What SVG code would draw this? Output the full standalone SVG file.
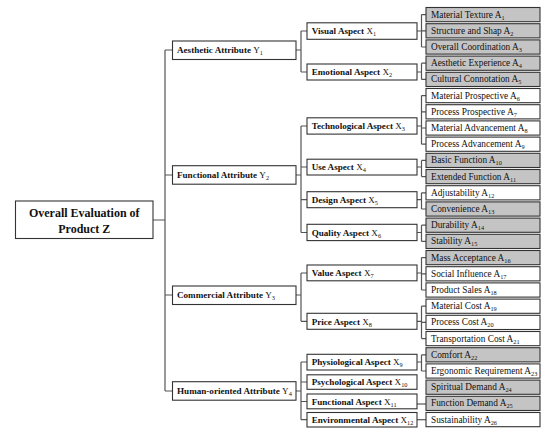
<svg xmlns="http://www.w3.org/2000/svg" width="550" height="436" viewBox="0 0 550 436">
<style>
.bx{fill:#fff;stroke:#333;stroke-width:1.1}
.gr{fill:#c4c4c4}
.ln{stroke:#555;stroke-width:1.2;fill:none}
text{font-family:"Liberation Serif","Times New Roman",serif;fill:#111}
.lf{font-size:9.3px}
.xb{font-size:9.1px;font-weight:bold}
.rt{font-size:12px;font-weight:bold}
.n{font-weight:normal}
.s{font-size:6.3px;font-weight:normal}
</style>
<rect width="550" height="436" fill="#fff"/>
<g id="connectors" class="ln">
<path d="M153,220H165M165,50V391M165,50H172.5M165,175H172.5M165,295H172.5M165,391H172.5"/>
<path d="M296,50H301M301,31V72M301,31H307M301,72H307"/>
<path d="M296,175H301M301,126V232.5M301,126H307M301,167H307M301,199.7H307M301,232.5H307"/>
<path d="M296,295H301M301,273V321.3M301,273H307M301,321.3H307"/>
<path d="M296,391H301M301,362V419.7M301,362H307M301,382H307M301,401.5H307M301,419.7H307"/>
<path d="M417,31H421.5M421.5,14.6V47M421.5,14.6H426M421.5,30.8H426M421.5,47H426"/>
<path d="M417,72H421.5M421.5,63.2V79.4M421.5,63.2H426M421.5,79.4H426"/>
<path d="M417,126H421.5M421.5,95.6V144.2M421.5,95.6H426M421.5,111.8H426M421.5,128H426M421.5,144.2H426"/>
<path d="M417,167H421.5M421.5,160.4V176.6M421.5,160.4H426M421.5,176.6H426"/>
<path d="M417,199.7H421.5M421.5,192.8V209M421.5,192.8H426M421.5,209H426"/>
<path d="M417,232.5H421.5M421.5,225.2V241.4M421.5,225.2H426M421.5,241.4H426"/>
<path d="M417,273H421.5M421.5,257.6V290M421.5,257.6H426M421.5,273.8H426M421.5,290H426"/>
<path d="M417,321.3H421.5M421.5,306.2V338.6M421.5,306.2H426M421.5,322.4H426M421.5,338.6H426"/>
<path d="M417,362H421.5M421.5,354.8V371M421.5,354.8H426M421.5,371H426"/>
<path d="M417,404H426"/>
<path d="M417,419.7H426"/>
</g>
<g id="root"><rect class="bx" x="15.5" y="201" width="137.5" height="37.5"/>
<text class="rt" x="84.3" y="217.3" text-anchor="middle">Overall Evaluation of</text>
<text class="rt" x="84.3" y="232.6" text-anchor="middle">Product Z</text></g>
<g id="Y1"><rect class="bx" x="172.5" y="41" width="123.5" height="18.5"/><text class="xb" x="177" y="53.3">Aesthetic Attribute <tspan class="n">Y</tspan><tspan class="s" dy="2">1</tspan></text></g>
<g id="Y2"><rect class="bx" x="172.5" y="165.7" width="123.5" height="18.5"/><text class="xb" x="177" y="178">Functional Attribute <tspan class="n">Y</tspan><tspan class="s" dy="2">2</tspan></text></g>
<g id="Y3"><rect class="bx" x="172.5" y="286" width="123.5" height="18.5"/><text class="xb" x="177" y="298.3">Commercial Attribute <tspan class="n">Y</tspan><tspan class="s" dy="2">3</tspan></text></g>
<g id="Y4"><rect class="bx" x="172.5" y="381.7" width="123.5" height="18.5"/><text class="xb" x="177" y="394">Human-oriented Attribute <tspan class="n">Y</tspan><tspan class="s" dy="2">4</tspan></text></g>
<g id="X1"><rect class="bx" x="307" y="22.8" width="110" height="16.5"/><text class="xb" x="311.7" y="34.3">Visual Aspect <tspan class="n">X</tspan><tspan class="s" dy="2">1</tspan></text></g>
<g id="X2"><rect class="bx" x="307" y="64" width="110" height="16"/><text class="xb" x="311.7" y="75.2">Emotional Aspect <tspan class="n">X</tspan><tspan class="s" dy="2">2</tspan></text></g>
<g id="X3"><rect class="bx" x="307" y="117.8" width="110" height="16.3"/><text class="xb" x="311.7" y="129.2">Technological Aspect <tspan class="n">X</tspan><tspan class="s" dy="2">3</tspan></text></g>
<g id="X4"><rect class="bx" x="307" y="159.2" width="110" height="15.8"/><text class="xb" x="311.7" y="170.2">Use Aspect <tspan class="n">X</tspan><tspan class="s" dy="2">4</tspan></text></g>
<g id="X5"><rect class="bx" x="307" y="191.7" width="110" height="16"/><text class="xb" x="311.7" y="202.9">Design Aspect <tspan class="n">X</tspan><tspan class="s" dy="2">5</tspan></text></g>
<g id="X6"><rect class="bx" x="307" y="224.3" width="110" height="16.3"/><text class="xb" x="311.7" y="235.7">Quality Aspect <tspan class="n">X</tspan><tspan class="s" dy="2">6</tspan></text></g>
<g id="X7"><rect class="bx" x="307" y="265" width="110" height="15.8"/><text class="xb" x="311.7" y="276.1">Value Aspect <tspan class="n">X</tspan><tspan class="s" dy="2">7</tspan></text></g>
<g id="X8"><rect class="bx" x="307" y="313.3" width="110" height="16"/><text class="xb" x="311.7" y="324.5">Price Aspect <tspan class="n">X</tspan><tspan class="s" dy="2">8</tspan></text></g>
<g id="X9"><rect class="bx" x="307" y="354.3" width="110" height="15.7"/><text class="xb" x="311.7" y="365.3">Physiological Aspect <tspan class="n">X</tspan><tspan class="s" dy="2">9</tspan></text></g>
<g id="X10"><rect class="bx" x="307" y="374.8" width="110" height="14.5"/><text class="xb" x="311.7" y="385.2">Psychological Aspect <tspan class="n">X</tspan><tspan class="s" dy="2">10</tspan></text></g>
<g id="X11"><rect class="bx" x="307" y="394" width="110" height="14.8"/><text class="xb" x="311.7" y="404.5">Functional Aspect <tspan class="n">X</tspan><tspan class="s" dy="2">11</tspan></text></g>
<g id="X12"><rect class="bx" x="307" y="412.5" width="110" height="14.5"/><text class="xb" x="311.7" y="422.9">Environmental Aspect <tspan class="n">X</tspan><tspan class="s" dy="2">12</tspan></text></g>
<g id="A1"><rect class="bx gr" x="426" y="7.5" width="114" height="14.2"/><text class="lf" x="431" y="17.6">Material Texture A<tspan class="s" dy="2">1</tspan></text></g>
<g id="A2"><rect class="bx gr" x="426" y="23.7" width="114" height="14.2"/><text class="lf" x="431" y="33.8">Structure and Shap A<tspan class="s" dy="2">2</tspan></text></g>
<g id="A3"><rect class="bx gr" x="426" y="39.9" width="114" height="14.2"/><text class="lf" x="431" y="50">Overall Coordination A<tspan class="s" dy="2">3</tspan></text></g>
<g id="A4"><rect class="bx gr" x="426" y="56.1" width="114" height="14.2"/><text class="lf" x="431" y="66.2">Aesthetic Experience A<tspan class="s" dy="2">4</tspan></text></g>
<g id="A5"><rect class="bx gr" x="426" y="72.3" width="114" height="14.2"/><text class="lf" x="431" y="82.4">Cultural Connotation A<tspan class="s" dy="2">5</tspan></text></g>
<g id="A6"><rect class="bx" x="426" y="88.5" width="114" height="14.2"/><text class="lf" x="431" y="98.6">Material Prospective A<tspan class="s" dy="2">6</tspan></text></g>
<g id="A7"><rect class="bx" x="426" y="104.7" width="114" height="14.2"/><text class="lf" x="431" y="114.8">Process Prospective A<tspan class="s" dy="2">7</tspan></text></g>
<g id="A8"><rect class="bx" x="426" y="120.9" width="114" height="14.2"/><text class="lf" x="431" y="131">Material Advancement A<tspan class="s" dy="2">8</tspan></text></g>
<g id="A9"><rect class="bx" x="426" y="137.1" width="114" height="14.2"/><text class="lf" x="431" y="147.2">Process Advancement A<tspan class="s" dy="2">9</tspan></text></g>
<g id="A10"><rect class="bx gr" x="426" y="153.3" width="114" height="14.2"/><text class="lf" x="431" y="163.4">Basic Function A<tspan class="s" dy="2">10</tspan></text></g>
<g id="A11"><rect class="bx gr" x="426" y="169.5" width="114" height="14.2"/><text class="lf" x="431" y="179.6">Extended Function A<tspan class="s" dy="2">11</tspan></text></g>
<g id="A12"><rect class="bx" x="426" y="185.7" width="114" height="14.2"/><text class="lf" x="431" y="195.8">Adjustability A<tspan class="s" dy="2">12</tspan></text></g>
<g id="A13"><rect class="bx gr" x="426" y="201.9" width="114" height="14.2"/><text class="lf" x="431" y="212">Convenience A<tspan class="s" dy="2">13</tspan></text></g>
<g id="A14"><rect class="bx gr" x="426" y="218.1" width="114" height="14.2"/><text class="lf" x="431" y="228.2">Durability A<tspan class="s" dy="2">14</tspan></text></g>
<g id="A15"><rect class="bx gr" x="426" y="234.3" width="114" height="14.2"/><text class="lf" x="431" y="244.4">Stability A<tspan class="s" dy="2">15</tspan></text></g>
<g id="A16"><rect class="bx gr" x="426" y="250.5" width="114" height="14.2"/><text class="lf" x="431" y="260.6">Mass Acceptance A<tspan class="s" dy="2">16</tspan></text></g>
<g id="A17"><rect class="bx" x="426" y="266.7" width="114" height="14.2"/><text class="lf" x="431" y="276.8">Social Influence A<tspan class="s" dy="2">17</tspan></text></g>
<g id="A18"><rect class="bx" x="426" y="282.9" width="114" height="14.2"/><text class="lf" x="431" y="293">Product Sales A<tspan class="s" dy="2">18</tspan></text></g>
<g id="A19"><rect class="bx" x="426" y="299.1" width="114" height="14.2"/><text class="lf" x="431" y="309.2">Material Cost A<tspan class="s" dy="2">19</tspan></text></g>
<g id="A20"><rect class="bx" x="426" y="315.3" width="114" height="14.2"/><text class="lf" x="431" y="325.4">Process Cost A<tspan class="s" dy="2">20</tspan></text></g>
<g id="A21"><rect class="bx" x="426" y="331.5" width="114" height="14.2"/><text class="lf" x="431" y="341.6">Transportation Cost A<tspan class="s" dy="2">21</tspan></text></g>
<g id="A22"><rect class="bx gr" x="426" y="347.7" width="114" height="14.2"/><text class="lf" x="431" y="357.8">Comfort A<tspan class="s" dy="2">22</tspan></text></g>
<g id="A23"><rect class="bx" x="426" y="363.9" width="114" height="14.2"/><text class="lf" x="431" y="374">Ergonomic Requirement A<tspan class="s" dy="2">23</tspan></text></g>
<g id="A24"><rect class="bx gr" x="426" y="380.1" width="114" height="14.2"/><text class="lf" x="431" y="390.2">Spiritual Demand A<tspan class="s" dy="2">24</tspan></text></g>
<g id="A25"><rect class="bx gr" x="426" y="396.3" width="114" height="14.2"/><text class="lf" x="431" y="406.4">Function Demand A<tspan class="s" dy="2">25</tspan></text></g>
<g id="A26"><rect class="bx" x="426" y="412.5" width="114" height="14.2"/><text class="lf" x="431" y="422.6">Sustainability A<tspan class="s" dy="2">26</tspan></text></g>
</svg>
